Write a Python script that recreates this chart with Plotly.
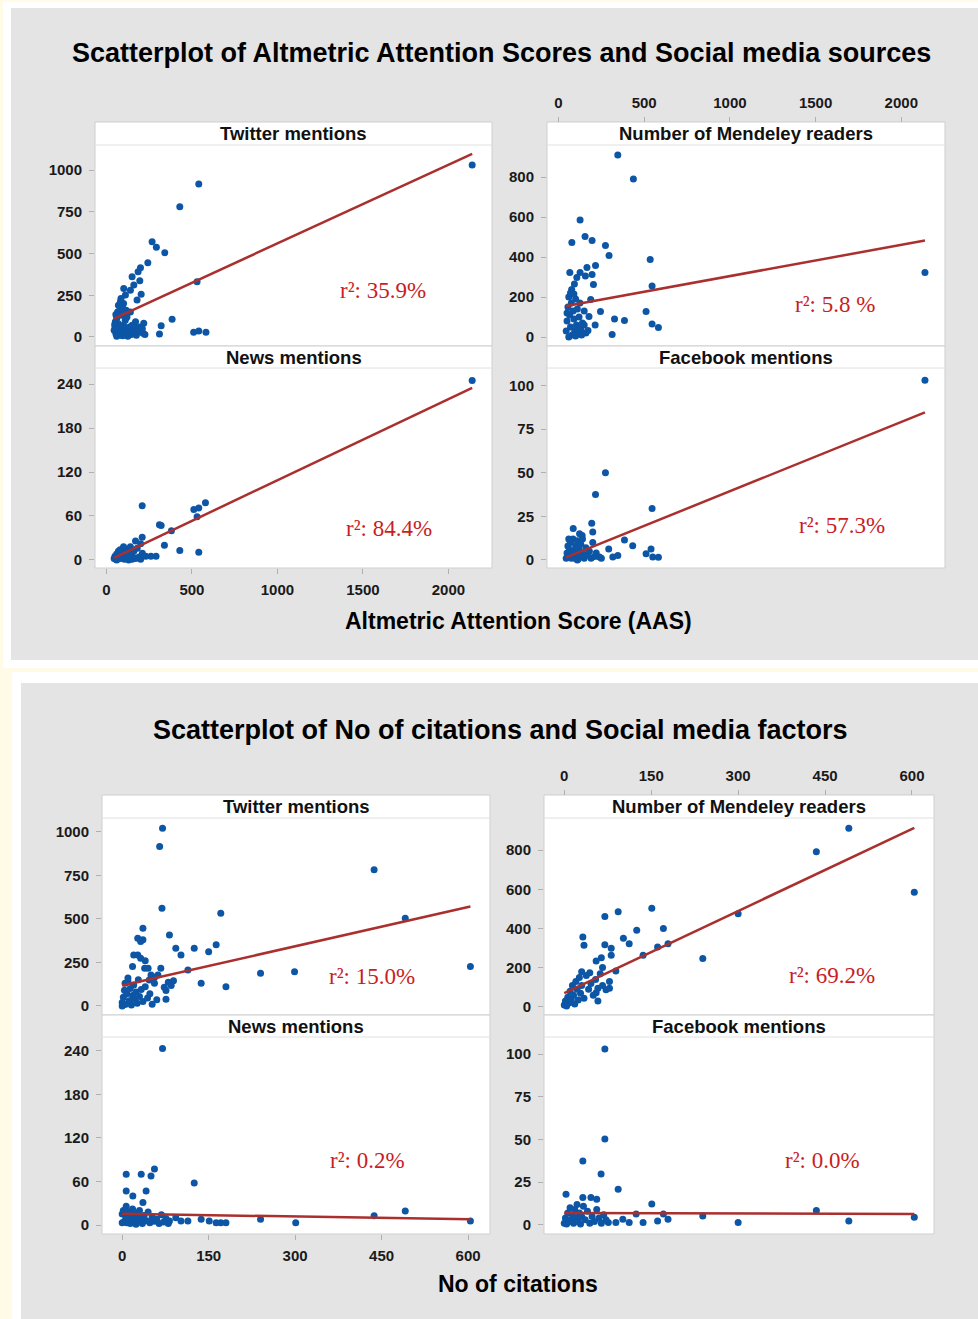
import plotly.graph_objects as go

# page geometry
W, H = 978, 1319
OFF = 0
FW, FH = W - OFF, H - 2 * OFF

# ---------------- DATA ----------------
# Top panel: Altmetric Attention Score (AAS) vs social media sources
aas_twitter_x = [2139, 540, 429, 267, 292, 341, 242, 199, 185, 150, 195, 160, 101, 140, 203, 179, 530, 111, 82, 91,
                 72, 62, 52, 170, 218, 384, 320, 310, 214, 510, 540, 582, 130,
                 45, 50, 55, 60, 65, 70, 75, 80, 85, 90, 95, 100, 105, 110, 120, 125, 135, 145, 155, 165, 175, 185,
                 60, 70, 85, 100, 115, 55, 48, 68, 95, 150, 160, 195, 210, 225, 120, 140]
aas_twitter_y = [1030, 916, 780, 571, 537, 505, 445, 415, 391, 361, 337, 311, 291, 280, 256, 222, 331, 251, 212, 182,
                 152, 122, 92, 92, 82, 106, 68, 18, 22, 28, 36, 28, 22,
                 40, 60, 20, 110, 150, 80, 30, 10, 50, 130, 170, 70, 20, 100, 45, 5, 60, 15, 40, 55, 10, 30,
                 5, 190, 230, 200, 160, 135, 75, 48, 8, 70, 30, 60, 50, 15, 120, 150]

aas_mendeley_x = [346, 437, 126, 155, 78, 196, 274, 295, 535, 216, 166, 66, 126, 196, 157, 107, 93, 204, 77, 546,
                  2138, 188, 245, 511, 327, 385, 546, 583, 313, 214, 172, 178,
                  45, 50, 55, 60, 65, 70, 75, 80, 85, 90, 95, 100, 105, 110, 115, 120, 125, 130, 140, 150, 160,
                  60, 100, 150, 135, 70, 90, 50, 120]
aas_mendeley_y = [910, 790, 585, 502, 473, 482, 458, 407, 388, 357, 348, 322, 323, 313, 305, 297, 265, 263, 238, 255,
                  323, 188, 127, 127, 90, 82, 65, 48, 13, 60, 32, 102,
                  30, 80, 150, 200, 110, 50, 170, 10, 130, 90, 30, 190, 60, 140, 20, 100, 170, 40, 70, 130, 20,
                  0, 5, 60, 10, 220, 215, 120, 40]

aas_news_x = [2139, 209, 579, 511, 540, 530, 310, 320, 380, 209, 170, 339, 429, 540, 290, 260, 230,
              45, 50, 55, 60, 65, 70, 75, 80, 85, 90, 95, 100, 105, 110, 115, 120, 125, 130, 140, 150, 160, 170,
              180, 190, 200, 210, 150, 200, 100, 80, 60, 130]
aas_news_y = [245, 74, 78, 69, 71, 59, 48, 47, 40, 31, 26, 20, 13, 10.5, 5, 5, 5,
              2, 5, 1, 8, 3, 12, 6, 2, 10, 4, 15, 7, 1, 11, 5, 14, 3, 9, 18, 6, 12, 2,
              16, 4, 22, 9, 1, 1, 18, 14, 0, 0]

aas_facebook_x = [2138, 274, 216, 546, 194, 86, 200, 123, 138, 385, 433, 293, 540, 511, 550, 583, 317, 346, 239,
                  45, 50, 55, 60, 65, 70, 75, 80, 85, 90, 95, 100, 105, 110, 115, 120, 125, 130, 140, 150, 160,
                  170, 180, 190, 200, 210, 220, 250, 60, 140, 110]
aas_facebook_y = [103, 50, 37.5, 29.5, 21, 18, 16, 15, 14, 11.4, 8.2, 6.3, 6.3, 3.5, 1.7, 1.5, 1.7, 2.5, 1.7,
                  1, 4, 8, 2, 6, 10, 1, 3, 12, 5, 1, 8, 3, 11, 0.5, 6, 2, 9, 4, 1, 7,
                  3, 5, 1, 10, 2, 4, 1, 12, 12, 0]

# Bottom panel: number of citations vs social media factors
cit_twitter_x = [70, 65, 437, 69, 171, 491, 36, 27, 36, 32, 82, 93, 125, 163, 150, 102, 20, 27, 32, 40, 18, 39, 45,
                 114, 67, 604, 240, 299, 137, 180, 89, 80, 85, 76, 73, 76, 56, 62, 50, 47,
                 0, 2, 4, 5, 6, 8, 10, 12, 14, 16, 18, 20, 22, 24, 26, 28, 30, 33, 36, 40, 44, 48, 52, 56, 60,
                 0, 3, 10]
cit_twitter_y = [1021, 916, 782, 561, 533, 504, 446, 389, 380, 370, 408, 331, 331, 351, 312, 293, 293, 293, 274, 260,
                 226, 216, 216, 207, 216, 226, 188, 197, 130, 111, 145, 136, 118, 89, 108, 38, 164, 178, 178, 149,
                 20, 50, 90, 130, 10, 70, 140, 30, 100, 5, 60, 120, 40, 80, 15, 150, 55, 95, 25, 110, 45, 70, 10,
                 130, 35, 0, 8, 160]

cit_mendeley_x = [491, 435, 604, 300, 239, 151, 93, 70, 125, 171, 102, 112, 179, 161, 32, 34, 70, 81, 81, 136, 64,
                  55, 66, 89, 78, 78, 72, 58, 55,
                  0, 2, 4, 6, 8, 10, 12, 14, 16, 18, 20, 22, 24, 26, 28, 30, 34, 38, 42, 46, 50, 54, 58, 62, 66,
                  30, 44]
cit_mendeley_y = [912, 792, 585, 476, 247, 503, 486, 461, 391, 400, 350, 323, 323, 306, 357, 315, 317, 299, 264, 264,
                  251, 234, 201, 184, 130, 96, 88, 96, 72,
                  10, 30, 5, 50, 20, 80, 40, 110, 60, 15, 130, 90, 35, 150, 70, 110, 45, 160, 90, 120, 60, 140,
                  30, 170, 110, 180, 175]

cit_news_x = [70, 56, 7, 33, 50, 125, 7, 41.5, 18.5, 36, 7, 491, 437, 240, 137, 301, 604, 151, 163, 171, 180, 114,
              102, 93, 82,
              0, 2, 4, 6, 8, 10, 12, 14, 16, 18, 20, 22, 24, 26, 28, 30, 32, 35, 38, 42, 45, 48, 52, 56, 60, 64,
              68, 72, 76, 80, 0]
cit_news_y = [243, 77, 70, 70, 67.6, 58, 47, 47, 40, 31, 26, 19.3, 12.9, 7.8, 7.8, 3.2, 5.5, 5.5, 3.2, 3.2, 3.2, 5.5,
              5.5, 10, 5.5,
              15, 20, 5, 12, 3, 18, 8, 2, 14, 22, 6, 10, 1, 16, 4, 20, 9, 2, 13, 6, 18, 3, 11, 5, 8, 2,
              14, 4, 9, 2, 3]

cit_facebook_x = [70, 70, 32, 63.5, 93, 3, 151, 32, 46, 56, 435, 239, 604, 491, 300, 171, 179, 161, 136, 124, 112,
                  101, 89, 76,
                  0, 2, 4, 6, 8, 10, 12, 14, 16, 18, 20, 22, 24, 26, 28, 30, 33, 36, 40, 44, 48, 52, 56, 60, 64,
                  68, 72]
cit_facebook_y = [103, 50.3, 37.4, 29.8, 20.9, 18, 12.3, 16, 16, 15, 8.4, 5.3, 4.5, 2.3, 1.4, 6.4, 3.3, 2.3, 1.4,
                  6.4, 1.4, 3.3, 1.4, 1.4,
                  1, 4, 0.5, 7, 2, 10, 3, 6, 1, 9, 4, 12, 2, 7, 0.5, 5, 11, 3, 8, 1, 5, 2, 9, 4, 1,
                  6, 3]

# fitted regression lines (intercept, slope) and r-squared labels
fit_intercepts = [89, 148, -2, -0.3, 117, 71, 15.4, 7]
fit_slopes = [0.4714, 0.1564, 0.1107, 0.0397, 0.753, 1.395, -0.0123, -0.001]
r2_labels = ["35.9%", "5.8 %", "84.4%", "57.3%", "15.0%", "69.2%", "0.2%", "0.0%"]

facet_titles = ["Twitter mentions", "Number of Mendeley readers", "News mentions", "Facebook mentions"]
aas_ticks = [0, 500, 1000, 1500, 2000]
cit_ticks = [0, 150, 300, 450, 600]
twitter_ticks = [0, 250, 500, 750, 1000]
mendeley_ticks = [0, 200, 400, 600, 800]
news_ticks = [0, 60, 120, 180, 240]
facebook_ticks = [0, 25, 50, 75, 100]

main_titles = ["Scatterplot of Altmetric Attention Scores and Social media sources",
               "Scatterplot of No of citations and Social media factors"]
x_titles = ["Altmetric Attention Score (AAS)", "No of citations"]

# ---------------- LAYOUT HELPERS ----------------
def px(x):
    return (x - OFF) / FW


def py(y):
    return 1 - (y - OFF) / FH


BLUE = "#0d56a6"
LINE = "#a9302e"
RED = "#c81e24"
FONT = "Liberation Sans"

facets = [
    # top panel
    dict(x=aas_twitter_x, y=aas_twitter_y, box=(95, 492, 122, 145, 346), xr=[-67, 2255], yr=[-54, 1150],
         yt=twitter_ticks, xt=aas_ticks, xside=None, title=0, r2=(383, 290)),
    dict(x=aas_mendeley_x, y=aas_mendeley_y, box=(547, 945, 122, 145, 346), xr=[-67, 2255], yr=[-45, 960],
         yt=mendeley_ticks, xt=aas_ticks, xside="top", title=1, r2=(835, 305)),
    dict(x=aas_news_x, y=aas_news_y, box=(95, 492, 346, 368, 568), xr=[-67, 2255], yr=[-11, 262],
         yt=news_ticks, xt=aas_ticks, xside="bottom", title=2, r2=(389, 528)),
    dict(x=aas_facebook_x, y=aas_facebook_y, box=(547, 945, 346, 368, 568), xr=[-67, 2255], yr=[-4.6, 110],
         yt=facebook_ticks, xt=aas_ticks, xside=None, title=3, r2=(842, 525)),
    # bottom panel
    dict(x=cit_twitter_x, y=cit_twitter_y, box=(102, 490, 795, 818, 1015), xr=[-35, 638], yr=[-52, 1080],
         yt=twitter_ticks, xt=cit_ticks, xside=None, title=0, r2=(372, 976)),
    dict(x=cit_mendeley_x, y=cit_mendeley_y, box=(544, 934, 795, 818, 1015), xr=[-35, 638], yr=[-41, 964],
         yt=mendeley_ticks, xt=cit_ticks, xside="top", title=1, r2=(832, 975)),
    dict(x=cit_news_x, y=cit_news_y, box=(102, 490, 1015, 1037, 1234), xr=[-35, 638], yr=[-12.4, 259],
         yt=news_ticks, xt=cit_ticks, xside="bottom", title=2, r2=(367, 1160)),
    dict(x=cit_facebook_x, y=cit_facebook_y, box=(544, 934, 1015, 1037, 1234), xr=[-35, 638], yr=[-5.3, 110],
         yt=facebook_ticks, xt=cit_ticks, xside=None, title=3, r2=(822, 1160)),
]

fig = go.Figure()

shapes = [
    # white bands and grey panels on the cream page
    dict(type="rect", xref="paper", yref="paper", x0=px(3), x1=px(W), y0=py(668), y1=py(2),
         fillcolor="white", line_width=0, layer="below"),
    dict(type="rect", xref="paper", yref="paper", x0=px(11), x1=px(W), y0=py(660), y1=py(8),
         fillcolor="#e4e4e4", line_width=0, layer="below"),
    dict(type="rect", xref="paper", yref="paper", x0=px(12), x1=px(W), y0=0, y1=py(672),
         fillcolor="white", line_width=0, layer="below"),
    dict(type="rect", xref="paper", yref="paper", x0=px(21), x1=px(W), y0=0, y1=py(683),
         fillcolor="#e4e4e4", line_width=0, layer="below"),
]
annotations = []
layout_axes = {}

tickfont = dict(family=FONT, size=15, color="#1a1a1a", weight="bold")

for i, f in enumerate(facets):
    n = i + 1
    xa = "x" if n == 1 else f"x{n}"
    ya = "y" if n == 1 else f"y{n}"
    x0, x1, ht, pt, pb = f["box"]
    # facet box and strip
    shapes.append(dict(type="rect", xref="paper", yref="paper", x0=px(x0), x1=px(x1), y0=py(pb), y1=py(ht),
                       fillcolor="white", line=dict(color="#cfcfcf", width=1), layer="below"))
    shapes.append(dict(type="line", xref="paper", yref="paper", x0=px(x0), x1=px(x1), y0=py(pt), y1=py(pt),
                       line=dict(color="#e0e0e0", width=1), layer="below"))
    annotations.append(dict(text=facet_titles[f["title"]], xref="paper", yref="paper",
                            x=px((x0 + x1) / 2), y=py((ht + pt) / 2), showarrow=False,
                            xanchor="center", yanchor="middle",
                            font=dict(family=FONT, size=18.5, color="#111", weight="bold")))
    # r2 label
    annotations.append(dict(text="r²: " + r2_labels[i], xref="paper", yref="paper",
                            x=px(f["r2"][0]), y=py(f["r2"][1]), showarrow=False,
                            xanchor="center", yanchor="middle",
                            font=dict(family="Liberation Serif", size=23, color=RED)))

    xaxis = dict(domain=[px(x0), px(x1)], range=f["xr"], showgrid=False, zeroline=False,
                 showline=False, anchor=ya, tickvals=f["xt"], tickfont=tickfont)
    if f["xside"] is None:
        xaxis.update(showticklabels=False, ticks="")
    elif f["xside"] == "bottom":
        xaxis.update(side="bottom", ticks="outside", ticklen=5, tickcolor="#b0b0b0", ticklabelstandoff=3)
    else:
        xaxis.update(side="top", ticks="outside", ticklen=5, tickcolor="#b0b0b0", anchor="free",
                     position=py(ht), ticklabelstandoff=3)
    yaxis = dict(domain=[py(pb), py(pt)], range=f["yr"], showgrid=False, zeroline=False, showline=False,
                 anchor=xa, tickvals=f["yt"], ticks="outside", ticklen=5, tickcolor="#b0b0b0",
                 tickfont=tickfont, ticklabelstandoff=4)
    layout_axes["xaxis" if n == 1 else f"xaxis{n}"] = xaxis
    layout_axes["yaxis" if n == 1 else f"yaxis{n}"] = yaxis

    fig.add_trace(go.Scatter(x=f["x"], y=f["y"], mode="markers", xaxis=xa, yaxis=ya,
                             marker=dict(color=BLUE, size=7, line_width=0), showlegend=False,
                             cliponaxis=True))
    lx = [min(f["x"]), max(f["x"])]
    ly = [fit_intercepts[i] + fit_slopes[i] * v for v in lx]
    fig.add_trace(go.Scatter(x=lx, y=ly, mode="lines", xaxis=xa, yaxis=ya,
                             line=dict(color=LINE, width=2.5), showlegend=False))

# main titles and axis titles
annotations.append(dict(text=main_titles[0], xref="paper", yref="paper", x=px(502), y=py(53),
                        showarrow=False, xanchor="center", yanchor="middle",
                        font=dict(family=FONT, size=27, color="#000", weight="bold")))
annotations.append(dict(text=main_titles[1], xref="paper", yref="paper", x=px(500), y=py(730),
                        showarrow=False, xanchor="center", yanchor="middle",
                        font=dict(family=FONT, size=27, color="#000", weight="bold")))
annotations.append(dict(text=x_titles[0], xref="paper", yref="paper", x=px(518), y=py(621),
                        showarrow=False, xanchor="center", yanchor="middle",
                        font=dict(family=FONT, size=23, color="#000", weight="bold")))
annotations.append(dict(text=x_titles[1], xref="paper", yref="paper", x=px(518), y=py(1284),
                        showarrow=False, xanchor="center", yanchor="middle",
                        font=dict(family=FONT, size=23, color="#000", weight="bold")))

fig.update_layout(
    width=FW, height=FH, margin=dict(l=0, r=0, t=0, b=0),
    paper_bgcolor="#fffbe6", plot_bgcolor="rgba(0,0,0,0)",
    shapes=shapes, annotations=annotations, showlegend=False,
    **layout_axes,
)

fig.write_html("out.html", config={"displayModeBar": False},
               post_script="document.body.style.margin='0';document.body.style.overflow='hidden';")
